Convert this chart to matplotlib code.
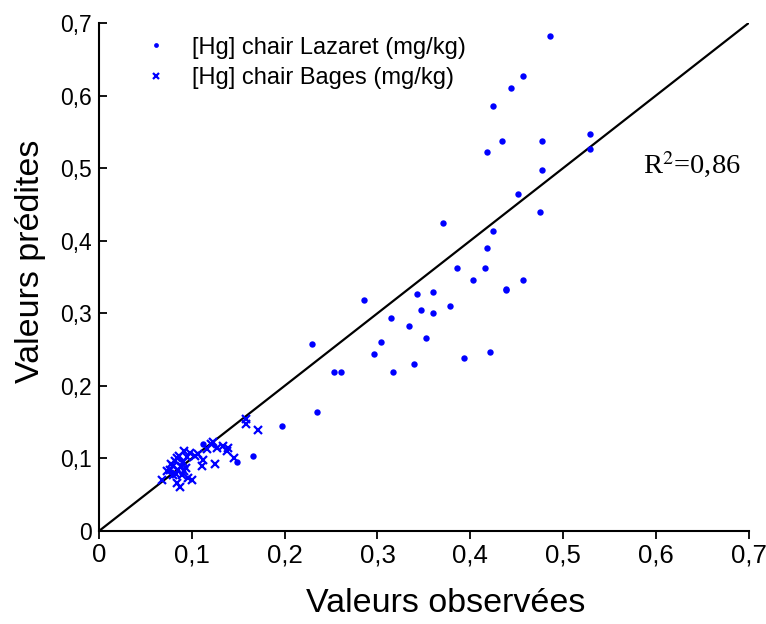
import matplotlib
matplotlib.use("Agg")
import matplotlib.pyplot as plt

plt.rcParams['font.family'] = ['Liberation Sans', 'DejaVu Sans']

# Lazaret (dots): observed, predicted
laz_obs = [0.486, 0.457, 0.444, 0.425, 0.434, 0.477, 0.418, 0.477, 0.451, 0.475,
           0.371, 0.425, 0.418, 0.386, 0.416, 0.403, 0.438, 0.438, 0.457, 0.343,
           0.360, 0.347, 0.360, 0.378, 0.315, 0.334, 0.352, 0.304, 0.339, 0.393,
           0.421, 0.317, 0.285, 0.296, 0.253, 0.261, 0.229, 0.529, 0.529, 0.235,
           0.197, 0.166, 0.149, 0.112]
laz_pred = [0.682, 0.627, 0.610, 0.585, 0.538, 0.538, 0.522, 0.497, 0.464, 0.439,
            0.425, 0.414, 0.390, 0.362, 0.362, 0.346, 0.334, 0.332, 0.346, 0.326,
            0.329, 0.304, 0.301, 0.310, 0.293, 0.282, 0.266, 0.260, 0.230, 0.238,
            0.246, 0.219, 0.318, 0.244, 0.219, 0.219, 0.257, 0.547, 0.527, 0.164,
            0.144, 0.103, 0.095, 0.120]

# Bages (crosses): observed, predicted
bag_obs = [0.158, 0.158, 0.171, 0.123, 0.121, 0.116, 0.127, 0.134, 0.139, 0.138,
           0.145, 0.125, 0.111, 0.098, 0.103, 0.095, 0.092, 0.082, 0.080, 0.076,
           0.073, 0.068, 0.080, 0.084, 0.087, 0.096, 0.100, 0.089, 0.085, 0.088,
           0.084, 0.078, 0.090, 0.092, 0.107, 0.112, 0.086, 0.083, 0.094]
bag_pred = [0.154, 0.147, 0.139, 0.123, 0.120, 0.113, 0.115, 0.117, 0.114, 0.110,
            0.100, 0.092, 0.090, 0.107, 0.103, 0.102, 0.110, 0.096, 0.089, 0.084,
            0.082, 0.070, 0.077, 0.066, 0.061, 0.073, 0.070, 0.077, 0.084, 0.090,
            0.100, 0.092, 0.095, 0.082, 0.106, 0.098, 0.104, 0.079, 0.087]

line_x = [0, 0.7]
ticks = [0, 0.1, 0.2, 0.3, 0.4, 0.5, 0.6, 0.7]
tick_labels = ['0', '0,1', '0,2', '0,3', '0,4', '0,5', '0,6', '0,7']

fig = plt.figure(figsize=(7.66, 6.24), dpi=100)
ax = fig.add_axes([99/766, 1-531/624, (748.7-99)/766, (531-23)/624])

ax.plot(line_x, line_x, color='black', lw=1.6, zorder=1)
ax.plot(laz_obs, laz_pred, 'o', color='#0000ff', ms=4.6, mew=0, ls='none',
        label='[Hg] chair Lazaret (mg/kg)', zorder=3)
ax.plot(bag_obs, bag_pred, 'x', color='#0000ff', ms=6, mew=1.6, ls='none',
        label='[Hg] chair Bages (mg/kg)', zorder=3)

ax.set_xlim(0, 0.7)
ax.set_ylim(0, 0.7)
ax.set_xticks(ticks)
ax.set_xticklabels(tick_labels, fontsize=18.5)
ax.set_yticks(ticks)
ax.set_yticklabels(tick_labels, fontsize=16.5)
ax.tick_params(axis='both', color='black', width=1.3, length=6)
ax.tick_params(axis='y', direction='in', pad=5)
ax.tick_params(axis='x', direction='out', pad=3)
for s in ['top', 'right']:
    ax.spines[s].set_visible(False)
for s in ['left', 'bottom']:
    ax.spines[s].set_linewidth(1.5)

ax.set_xlabel('Valeurs observées', fontsize=24.5)
ax.xaxis.set_label_coords(0.534, -0.113)
ax.set_ylabel('Valeurs prédites', fontsize=24.5)
ax.yaxis.set_label_coords(-0.082, 0.53)

leg = ax.legend(loc='upper left', bbox_to_anchor=(0.031, 1.015), frameon=False,
                fontsize=17, markerscale=0.75, handletextpad=0.9, labelspacing=0.35,
                handlelength=1.3)

ax.text(0.691, 0.504, r'R$^{2}$=0,86', fontsize=20.5, family='Liberation Serif',
        math_fontfamily='stix', ha='right', va='center')

fig.savefig('out.png', dpi=100)
